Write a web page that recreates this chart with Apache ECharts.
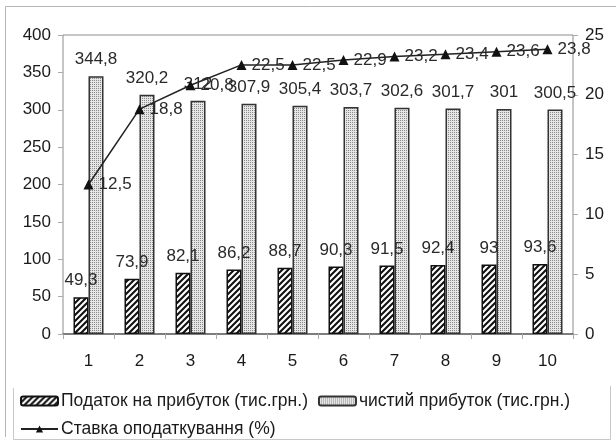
<!DOCTYPE html>
<html>
<head>
<meta charset="utf-8">
<style>
  html, body { margin: 0; padding: 0; background: #fff; }
  #chart { width: 616px; height: 443px; }
</style>
<script src="https://cdn.jsdelivr.net/npm/echarts@6/dist/echarts.min.js"></script>
</head>
<body>
<div id="chart"></div>
<script>
// Periods on the category axis
const periods = ['1', '2', '3', '4', '5', '6', '7', '8', '9', '10'];
// Profit tax, thousand UAH
const taxValues = [49.3, 73.9, 82.1, 86.2, 88.7, 90.3, 91.5, 92.4, 93, 93.6];
// Net profit, thousand UAH
const netProfitValues = [344.8, 320.2, 312, 307.9, 305.4, 303.7, 302.6, 301.7, 301, 300.5];
// Tax rate, %
const rateValues = [12.5, 18.8, 20.8, 22.5, 22.5, 22.9, 23.2, 23.4, 23.6, 23.8];

const seriesNames = [
  'Податок на прибуток (тис.грн.)',
  'чистий прибуток (тис.грн.)',
  'Ставка оподаткування (%)'
];

// Diagonal hatch fill
function hatchPattern() {
  const s = 6;
  const c = document.createElement('canvas');
  c.width = s; c.height = s;
  const g = c.getContext('2d');
  g.fillStyle = '#fff';
  g.fillRect(0, 0, s, s);
  g.strokeStyle = '#111';
  g.lineWidth = 2.1;
  g.beginPath();
  g.moveTo(0, s); g.lineTo(s, 0);
  g.moveTo(-s / 2, s / 2); g.lineTo(s / 2, -s / 2);
  g.moveTo(s / 2, s * 1.5); g.lineTo(s * 1.5, s / 2);
  g.stroke();
  return c;
}

// Fine dotted fill
function dotPattern() {
  const s = 2;
  const c = document.createElement('canvas');
  c.width = s; c.height = s;
  const g = c.getContext('2d');
  g.fillStyle = '#e6e6e6';
  g.fillRect(0, 0, s, s);
  g.fillStyle = '#8a8a8a';
  g.fillRect(0, 0, 1, 1);
  return c;
}

const fmt = v => String(v).replace('.', ',');
const FONT = 'Liberation Sans, Arial, sans-serif';

const chart = echarts.init(document.getElementById('chart'), null, { renderer: 'canvas' });

chart.setOption({
  animation: false,
  backgroundColor: '#fff',
  textStyle: { fontFamily: FONT },
  grid: {
    left: 63, right: 43, top: 35, bottom: 109,
    show: true, borderColor: '#8c8c8c', borderWidth: 1
  },
  graphic: [
    // outer frame
    { type: 'polyline', silent: true,
      shape: { points: [[5.5, 437], [5.5, 6.5], [616, 6.5]] },
      style: { stroke: '#b5b5b5', lineWidth: 1, fill: null } },
    // legend frame
    { type: 'polyline', silent: true,
      shape: { points: [[13.5, 388], [13.5, 439.5], [610.5, 439.5], [610.5, 386]] },
      style: { stroke: '#c8c8c8', lineWidth: 1, fill: null } }
  ],
  legend: {
    left: 20, top: 392, width: 565, padding: 0,
    itemWidth: 37, itemHeight: 9, itemGap: 10,
    textStyle: { fontSize: 17.5, color: '#1a1a1a', fontFamily: FONT, lineHeight: 18, padding: [0, 0, 0, -2] },
    data: seriesNames
  },
  xAxis: {
    type: 'category',
    data: periods,
    axisLine: { lineStyle: { color: '#666', width: 1.5 } },
    axisTick: { show: true, length: 5, lineStyle: { color: '#aaa' } },
    axisLabel: { color: '#1a1a1a', fontSize: 17, margin: 19, fontFamily: FONT }
  },
  yAxis: [
    {
      type: 'value', min: 0, max: 400, interval: 50,
      axisLine: { show: false },
      axisTick: { show: true, length: 5, lineStyle: { color: '#aaa' } },
      splitLine: { show: false },
      axisLabel: { color: '#1a1a1a', fontSize: 17, margin: 12, fontFamily: FONT }
    },
    {
      type: 'value', min: 0, max: 25, interval: 5,
      axisLine: { show: false },
      axisTick: { show: true, length: 5, lineStyle: { color: '#aaa' } },
      splitLine: { show: false },
      axisLabel: { color: '#1a1a1a', fontSize: 17, margin: 12, fontFamily: FONT }
    }
  ],
  series: [
    {
      name: seriesNames[0],
      type: 'bar',
      data: taxValues,
      barWidth: 15,
      barGap: '0%',
      itemStyle: {
        color: { image: hatchPattern(), repeat: 'repeat' },
        borderColor: '#111', borderWidth: 1.5
      },
      label: {
        show: true, position: 'top', distance: 8,
        fontSize: 17, color: '#2a2a2a', fontFamily: FONT,
        formatter: p => fmt(p.value)
      }
    },
    {
      name: seriesNames[1],
      type: 'bar',
      data: netProfitValues,
      barWidth: 15,
      barGap: '0%',
      itemStyle: {
        color: { image: dotPattern(), repeat: 'repeat' },
        borderColor: '#333', borderWidth: 1.5
      },
      label: {
        show: true, position: 'top', distance: 8,
        fontSize: 17, color: '#2a2a2a', fontFamily: FONT,
        formatter: p => fmt(p.value)
      }
    },
    {
      name: seriesNames[2],
      type: 'line',
      yAxisIndex: 1,
      data: rateValues,
      z: 5,
      symbol: 'triangle',
      symbolSize: 10,
      itemStyle: { color: '#111' },
      lineStyle: { color: '#222', width: 1.5 },
      label: {
        show: true, position: 'right', distance: 5,
        fontSize: 17, color: '#2a2a2a', fontFamily: FONT,
        formatter: p => fmt(p.value)
      }
    }
  ]
});
</script>
</body>
</html>
